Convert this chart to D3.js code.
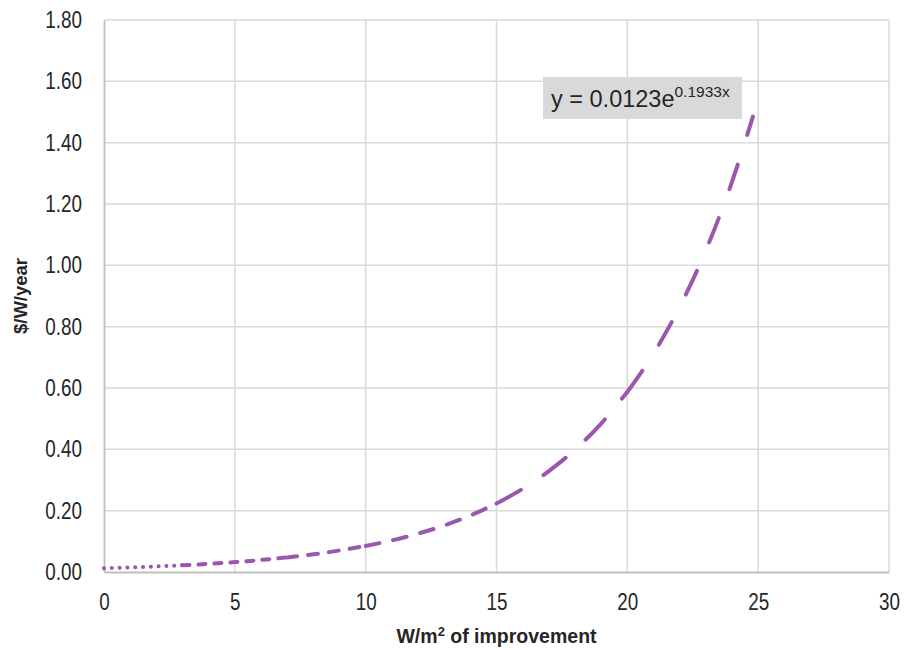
<!DOCTYPE html>
<html>
<head>
<meta charset="utf-8">
<script src="https://cdn.jsdelivr.net/npm/d3@7/dist/d3.min.js"></script>
<style>
  html, body { margin: 0; padding: 0; background: #ffffff; }
  svg { display: block; }
  .label { font-family: "Liberation Sans", Arial, sans-serif; fill: #262626; }
</style>
</head>
<body>
<svg id="chart" width="908" height="650"></svg>
<script>
// Cost of improvement ($/W/year) against W/m² of improvement
const xLow = [0, 1, 2, 3];
const yLow = [0.0123, 0.0149, 0.0181, 0.0220];
const xHigh = [3, 4, 5, 6, 7, 8, 9, 10, 11, 12, 13, 14, 15, 16, 17, 18, 19, 20, 21, 22, 23, 24, 24.8];
const yHigh = [0.0220, 0.0267, 0.0323, 0.0392, 0.0476, 0.0577, 0.0701, 0.0850, 0.1031, 0.1251, 0.1518,
               0.1842, 0.2234, 0.2711, 0.3289, 0.3990, 0.4841, 0.5873, 0.7125, 0.8645, 1.0488, 1.2724, 1.4852];
const xTicks = [0, 5, 10, 15, 20, 25, 30];
const yTicks = [0, 0.2, 0.4, 0.6, 0.8, 1.0, 1.2, 1.4, 1.6, 1.8];
const eqMain = "y = 0.0123e";
const eqExp = "0.1933x";
const xTitle = ["W/m", "2", " of improvement"];
const yTitle = "$/W/year";

const svg = d3.select("#chart");
const plotL = 104, plotR = 889, plotT = 20, plotB = 572;
const x = d3.scaleLinear().domain([0, 30]).range([plotL, plotR]);
const y = d3.scaleLinear().domain([0, 1.8]).range([plotB, plotT]);
const purple = "#9b57ae";
const narrowScale = 0.82;   // condensed tick lettering
const tickPad = 22;

// gridlines
const grid = svg.append("g");
grid.selectAll("line.h").data(yTicks.filter(d => d > 0)).join("line")
  .attr("x1", plotL).attr("x2", plotR)
  .attr("y1", d => y(d)).attr("y2", d => y(d))
  .attr("stroke", "#d9d9d9").attr("stroke-width", 1.5);
grid.selectAll("line.v").data(xTicks.filter(d => d > 0)).join("line")
  .attr("x1", d => x(d)).attr("x2", d => x(d))
  .attr("y1", plotT).attr("y2", plotB)
  .attr("stroke", "#d9d9d9").attr("stroke-width", 1.5);

// axes: domain line only, no tick marks
const xAxis = svg.append("g").attr("transform", `translate(0,${plotB})`)
  .call(d3.axisBottom(x).tickValues(xTicks).tickSize(0).tickPadding(tickPad).tickFormat(d3.format("d")));
const yAxis = svg.append("g").attr("transform", `translate(${plotL},0)`)
  .call(d3.axisLeft(y).tickValues(yTicks).tickSize(0).tickPadding(tickPad).tickFormat(d3.format(".2f")));
[xAxis, yAxis].forEach(a => {
  a.attr("font-family", '"Liberation Sans", Arial, sans-serif').attr("font-size", 23);
  a.select(".domain").attr("stroke", "#bfbfbf").attr("stroke-width", 1.8);
  a.selectAll(".tick text").attr("fill", "#262626")
    .attr("transform", `scale(${narrowScale},1)`);
});
yAxis.selectAll(".tick text").attr("x", -tickPad / narrowScale);

// curve: dotted lead-in, then dashes that lengthen as the curve steepens
const line = d3.line().x(d => x(d[0])).y(d => y(d[1])).curve(d3.curveMonotoneX);
svg.append("path").datum(d3.zip(xLow, yLow))
  .attr("d", line).attr("fill", "none").attr("stroke", purple)
  .attr("stroke-width", 4).attr("stroke-linecap", "round")
  .attr("stroke-dasharray", "0.1,7.7");

const highPts = d3.zip(xHigh, yHigh);
const dashSections = [
  { from: 3, to: 7, dash: "7,9" },
  { from: 7, to: 10, dash: "10,11" },
  { from: 10, to: 15, dash: "14,14" },
  { from: 15, to: 20, dash: "28,27" },
  { from: 20, to: 24.8, dash: "26,31" }
];
dashSections.forEach(s => {
  const pts = highPts.filter(p => p[0] >= s.from && p[0] <= s.to);
  svg.append("path").datum(pts)
    .attr("d", line).attr("fill", "none").attr("stroke", purple)
    .attr("stroke-width", 4).attr("stroke-linecap", "round")
    .attr("stroke-dasharray", s.dash);
});

// equation label
const eq = svg.append("g");
eq.append("rect").attr("x", 543).attr("y", 77).attr("width", 199).attr("height", 42).attr("fill", "#d9d9d9");
const eqText = eq.append("text").attr("class", "label").attr("x", 551).attr("y", 107).attr("font-size", 23.5);
eqText.append("tspan").text(eqMain);
eqText.append("tspan").attr("font-size", 15.5).attr("dy", -10).text(eqExp);

// axis titles
const xt = svg.append("text").attr("class", "label").attr("x", (plotL + plotR) / 2).attr("y", 643)
  .attr("text-anchor", "middle").attr("font-size", 19.5).attr("font-weight", "bold");
xt.append("tspan").text(xTitle[0]);
xt.append("tspan").attr("font-size", 13).attr("dy", -7).text(xTitle[1]);
xt.append("tspan").attr("dy", 7).text(xTitle[2]);

svg.append("text").attr("class", "label").attr("transform", `translate(27,${(plotT + plotB) / 2}) rotate(-90)`)
  .attr("text-anchor", "middle").attr("font-size", 18.5).attr("font-weight", "bold").text(yTitle);
</script>
</body>
</html>
